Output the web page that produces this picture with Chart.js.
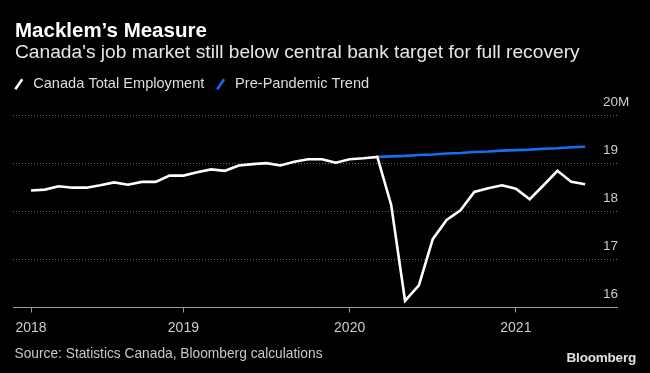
<!DOCTYPE html>
<html>
<head>
<meta charset="utf-8">
<script src="https://cdn.jsdelivr.net/npm/chart.js@4/dist/chart.umd.min.js"></script>
<style>
  html, body { margin: 0; padding: 0; background: #000; }
  #wrap { position: relative; width: 650px; height: 373px; overflow: hidden; background: #000;
          font-family: "Liberation Sans", Arial, sans-serif; }
  #chart { position: absolute; left: 0; top: 0; }
  .txt { position: absolute; white-space: nowrap; line-height: 1; }
  #title { left: 15px; top: 20px; font-size: 20.5px; font-weight: bold; color: #fff; }
  #subtitle { left: 15px; top: 42px; font-size: 19.2px; color: #e6e6e6; }
  #source { left: 14.5px; top: 347.4px; font-size: 13.75px; color: #c8c8c8; }
  #logo { right: 14px; top: 351px; font-size: 13.5px; font-weight: bold; color: #e0e0e0; letter-spacing: -0.2px; }
</style>
</head>
<body>
<div id="wrap">
  <canvas id="chart" width="650" height="373"></canvas>
  <div class="txt" id="title">Macklem’s Measure</div>
  <div class="txt" id="subtitle">Canada's job market still below central bank target for full recovery</div>
  <div class="txt" id="source">Source: Statistics Canada, Bloomberg calculations</div>
  <div class="txt" id="logo">Bloomberg</div>
</div>
<script>
// monthly, Jan 2018 .. May 2021 (millions)
const months = [
  '2018-01','2018-02','2018-03','2018-04','2018-05','2018-06','2018-07','2018-08','2018-09','2018-10','2018-11','2018-12',
  '2019-01','2019-02','2019-03','2019-04','2019-05','2019-06','2019-07','2019-08','2019-09','2019-10','2019-11','2019-12',
  '2020-01','2020-02','2020-03','2020-04','2020-05','2020-06','2020-07','2020-08','2020-09','2020-10','2020-11','2020-12',
  '2021-01','2021-02','2021-03','2021-04','2021-05'
];
const employment = [
  18.43, 18.45, 18.52, 18.49, 18.49, 18.54, 18.60, 18.55, 18.61, 18.61, 18.74, 18.74,
  18.81, 18.87, 18.84, 18.95, 18.98, 19.00, 18.95, 19.03, 19.08, 19.08, 19.01, 19.08,
  19.10, 19.13, 18.13, 16.14, 16.46, 17.42, 17.82, 18.02, 18.40, 18.48, 18.54, 18.47,
  18.25, 18.54, 18.84, 18.61, 18.56
];
const trend = [
  null, null, null, null, null, null, null, null, null, null, null, null,
  null, null, null, null, null, null, null, null, null, null, null, null,
  null, 19.13, 19.14, 19.15, 19.17, 19.18, 19.20, 19.21, 19.23, 19.24, 19.26, 19.27,
  19.28, 19.30, 19.31, 19.33, 19.34
];
const xTickPos = [0, 11, 23, 35];
const xTickLabels = ['2018', '2019', '2020', '2021'];
const yTickLabels = { 16: '16', 17: '17', 18: '18', 19: '19', 20: '20M' };

const FONT = '"Liberation Sans", Arial, sans-serif';
const toPoints = (arr) => arr.map((v, i) => ({ x: i, y: v }));

// legend sits above the plot; fix its box height so the plot starts at the right place
const legendHeight = {
  id: 'legendHeight',
  afterInit(chart) {
    const fit = chart.legend.fit;
    chart.legend.fit = function () {
      fit.call(this);
      this.height = 47.2;
    };
  }
};

new Chart(document.getElementById('chart'), {
  type: 'line',
  data: {
    datasets: [
      {
        label: 'Canada Total Employment',
        data: toPoints(employment),
        borderColor: '#ffffff',
        borderWidth: 2.6,
        pointRadius: 0,
        pointBorderWidth: 2.5,
        pointRotation: -55,
        tension: 0,
        clip: false
      },
      {
        label: 'Pre-Pandemic Trend',
        data: toPoints(trend),
        borderColor: '#166ef0',
        borderWidth: 2.6,
        pointRadius: 0,
        pointBorderWidth: 2.5,
        pointRotation: -55,
        tension: 0,
        spanGaps: false
      }
    ]
  },
  options: {
    responsive: false,
    animation: false,
    events: [],
    layout: { padding: { left: 2.5, right: 33, top: 67.8, bottom: 35.5 } },
    plugins: {
      tooltip: { enabled: false },
      legend: {
        position: 'top',
        align: 'start',
        labels: {
          usePointStyle: true,
          pointStyle: 'line',
          boxWidth: 14.2,
          boxHeight: 8.6,
          padding: 9.2,
          color: '#dddddd',
          font: { family: FONT, size: 14.6 }
        }
      }
    },
    scales: {
      x: {
        type: 'linear',
        min: -1.3,
        max: 42.3,
        afterBuildTicks: (s) => { s.ticks = xTickPos.map((v) => ({ value: v })); },
        afterFit: (s) => { s.height = 30; },
        ticks: {
          autoSkip: false,
          maxRotation: 0,
          padding: 7,
          color: '#cccccc',
          font: { family: FONT, size: 14 },
          callback: (v) => xTickLabels[xTickPos.indexOf(v)]
        },
        grid: { drawOnChartArea: false, drawTicks: true, tickLength: 5, color: '#9a9a9a' },
        border: { display: true, color: '#9a9a9a', width: 1 }
      },
      y: {
        type: 'linear',
        position: 'right',
        min: 16,
        max: 20,
        afterFit: (s) => { s.width = 0; },
        ticks: {
          stepSize: 1,
          mirror: true,
          crossAlign: 'far',
          padding: 12.3,
          labelOffset: -13,
          color: '#cccccc',
          font: { family: FONT, size: 13.5 },
          callback: (v) => yTickLabels[v]
        },
        grid: {
          drawTicks: false,
          lineWidth: 1,
          color: (ctx) => (ctx.tick && ctx.tick.value === 16 ? 'rgba(0,0,0,0)' : '#6a6a6a')
        },
        border: { display: false, dash: [1, 2] }
      },
      yl: {
        type: 'linear',
        position: 'left',
        display: true,
        afterFit: (s) => { s.width = 10.5; },
        ticks: { display: false },
        grid: { display: false },
        border: { display: false }
      }
    }
  },
  plugins: [legendHeight]
});
</script>
</body>
</html>
